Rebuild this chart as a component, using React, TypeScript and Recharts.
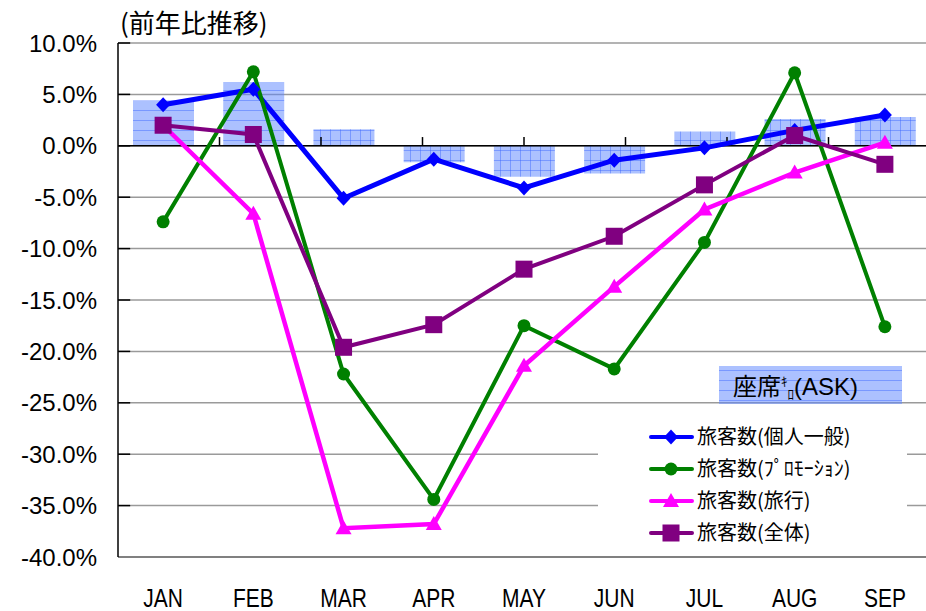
import React from "react";
import {
  ComposedChart, Line, Bar, Cell, XAxis, YAxis, CartesianGrid, ReferenceLine, Legend,
} from "recharts";

// 前年比推移 (%), JAN–SEP
const months = ["JAN", "FEB", "MAR", "APR", "MAY", "JUN", "JUL", "AUG", "SEP"];
const individual = [4.0, 5.5, -5.1, -1.3, -4.1, -1.4, -0.2, 1.5, 3.0];
const promotion = [-7.4, 7.2, -22.2, -34.4, -17.5, -21.7, -9.4, 7.1, -17.6];
const travel = [2.0, -6.6, -37.2, -36.8, -21.4, -13.7, -6.2, -2.6, 0.3];
const total = [2.0, 1.1, -19.6, -17.4, -12.0, -8.8, -3.8, 1.0, -1.8];
const ask = [4.4, 6.2, 1.6, -1.6, -3.0, -2.7, 1.4, 2.6, 2.8];
const yTicks = [10, 5, 0, -5, -10, -15, -20, -25, -30, -35, -40];
const boundaries = [1, 2, 3, 4, 5, 6, 7, 8];

const data = months.map((m, i) => ({
  month: m,
  individual: individual[i],
  promotion: promotion[i],
  travel: travel[i],
  total: total[i],
  ask: ask[i],
}));

const C = {
  blue: "#0000FF",
  green: "#008000",
  magenta: "#FF00FF",
  purple: "#800080",
  grid: "#9a9a9a",
};

const JP = "'Noto Sans CJK JP', 'Noto Sans', sans-serif";
const LAT = "'Liberation Sans', Arial, sans-serif";

type MarkProps = { cx: number; cy: number; color: string };

const Diamond = ({ cx, cy, color }: MarkProps) => (
  <path d={`M${cx},${cy - 7.5} L${cx + 7},${cy} L${cx},${cy + 7.5} L${cx - 7},${cy} Z`} fill={color} />
);
const Circle = ({ cx, cy, color }: MarkProps) => <circle cx={cx} cy={cy} r={6.5} fill={color} />;
const Triangle = ({ cx, cy, color }: MarkProps) => (
  <path d={`M${cx},${cy - 8} L${cx + 8},${cy + 6} L${cx - 8},${cy + 6} Z`} fill={color} />
);
const Square = ({ cx, cy, color }: MarkProps) => (
  <rect x={cx - 8.5} y={cy - 8.5} width={17} height={17} fill={color} />
);

const series = [
  { key: "individual", name: "旅客数（個人一般）", label: "旅客数(個人一般)", color: C.blue, width: 5, Mark: Diamond },
  { key: "promotion", name: "旅客数（プロモーション）", label: "旅客数(ﾌﾟﾛﾓｰｼｮﾝ)", color: C.green, width: 4, Mark: Circle },
  { key: "travel", name: "旅客数（旅行）", label: "旅客数(旅行)", color: C.magenta, width: 4.5, Mark: Triangle },
  { key: "total", name: "旅客数（全体）", label: "旅客数(全体)", color: C.purple, width: 4, Mark: Square },
];

const MonthTick = (props: any) => {
  const { x, y, payload } = props;
  return (
    <g transform={`translate(${x},${y}) scale(0.84,1)`}>
      <text x={0} y={50} textAnchor="middle" fontSize={25} fontFamily={LAT} fill="#000">
        {payload.value}
      </text>
    </g>
  );
};

const Patterns = () => (
  <defs>
    <pattern id="askGrid" width="10" height="10" patternUnits="userSpaceOnUse">
      <rect width="10" height="10" fill="#5a84ff" fillOpacity={0.5} />
      <path d="M0,0.5 H10 M0.5,0 V10" stroke="#3a66ff" strokeOpacity={0.45} strokeWidth={1} />
    </pattern>
    <pattern id="askLines" width="10" height="10" patternUnits="userSpaceOnUse">
      <rect width="10" height="10" fill="#5a84ff" fillOpacity={0.5} />
      <path d="M0,0.5 H10" stroke="#3a66ff" strokeOpacity={0.45} strokeWidth={1} />
    </pattern>
  </defs>
);

const renderLegend = () => (
  <svg width={312} height={192} style={{ display: "block" }}>
    <Patterns />
    <rect x={121} y={6} width={183} height={38} fill="url(#askLines)" />
    <text x={135} y={35} fontSize={24} fontFamily={JP} fill="#000">
      座席
      <tspan fontSize={13} dy={-9}>ｷ</tspan>
      <tspan fontSize={13} dy={13}>ﾛ</tspan>
      <tspan fontSize={24} dy={-4} fontFamily={LAT}>(ASK)</tspan>
    </text>
    <rect x={0} y={50} width={309} height={138} fill="#fff" />
    {series.map((s, i) => {
      const cy = 77 + i * 32;
      return (
        <g key={s.key}>
          <line x1={53} x2={94} y1={cy} y2={cy} stroke={s.color} strokeWidth={4} strokeLinecap="round" />
          <s.Mark cx={73} cy={cy} color={s.color} />
          <text x={99} y={cy + 7} fontSize={20} fontFamily={JP} fill="#000">{s.label}</text>
        </g>
      );
    })}
  </svg>
);

export default function App() {
  return (
    <div style={{ position: "fixed", left: 0, top: 0, width: 926, height: 611, overflow: "hidden", background: "#fff" }}>
      <div style={{ position: "absolute", left: 120, top: 3, fontSize: 26, fontFamily: JP, color: "#000", zIndex: 2 }}>
        (前年比推移)
      </div>
      <ComposedChart
        width={940}
        height={611}
        data={data}
        margin={{ top: 43, right: 10, bottom: 0, left: 0 }}
      >
        <Patterns />
        <CartesianGrid vertical={false} stroke={C.grid} strokeWidth={1.5} />
        <XAxis
          dataKey="month"
          height={54}
          tickLine={false}
          tickSize={0}
          tickMargin={0}
          axisLine={{ stroke: "#808080", strokeWidth: 2 }}
          tick={<MonthTick />}
          interval={0}
        />
        <XAxis xAxisId="n" type="number" domain={[0, 9]} hide />
        <YAxis
          width={118}
          domain={[-40, 10]}
          ticks={yTicks}
          interval={0}
          tickFormatter={(v: number) => `${v.toFixed(1)}%`}
          tickLine={false}
          tickSize={0}
          tickMargin={21}
          axisLine={{ stroke: "#000", strokeWidth: 1.5 }}
          tick={{ fontSize: 24, fontFamily: LAT, fill: "#000" }}
        />
        <ReferenceLine y={0} stroke="#000" strokeWidth={1.5} />
        {boundaries.map((b) => (
          <ReferenceLine key={`b${b}`} xAxisId="n" segment={[{ x: b, y: 0 }, { x: b, y: 0.85 }]} stroke="#000" strokeWidth={1.5} />
        ))}
        {yTicks.map((t) => (
          <ReferenceLine key={`y${t}`} xAxisId="n" segment={[{ x: 0, y: t }, { x: 0.12, y: t }]} stroke="#000" strokeWidth={1.5} />
        ))}
        <Bar dataKey="ask" name="座席ｷﾛ(ASK)" barSize={61} isAnimationActive={false}>
          {ask.map((_, i) => (
            <Cell key={i} fill={i < 2 ? "url(#askLines)" : "url(#askGrid)"} />
          ))}
        </Bar>
        {series.map((s) => (
          <Line
            key={s.key}
            dataKey={s.key}
            name={s.name}
            stroke={s.color}
            strokeWidth={s.width}
            isAnimationActive={false}
            dot={(p: any) => <s.Mark key={`${s.key}-${p.index}`} cx={p.cx} cy={p.cy} color={s.color} />}
            activeDot={false}
          />
        ))}
        <Legend
          layout="vertical"
          align="center"
          verticalAlign="middle"
          content={renderLegend}
          wrapperStyle={{ left: 598, top: 360, width: 312, height: 192 }}
        />
      </ComposedChart>
    </div>
  );
}
